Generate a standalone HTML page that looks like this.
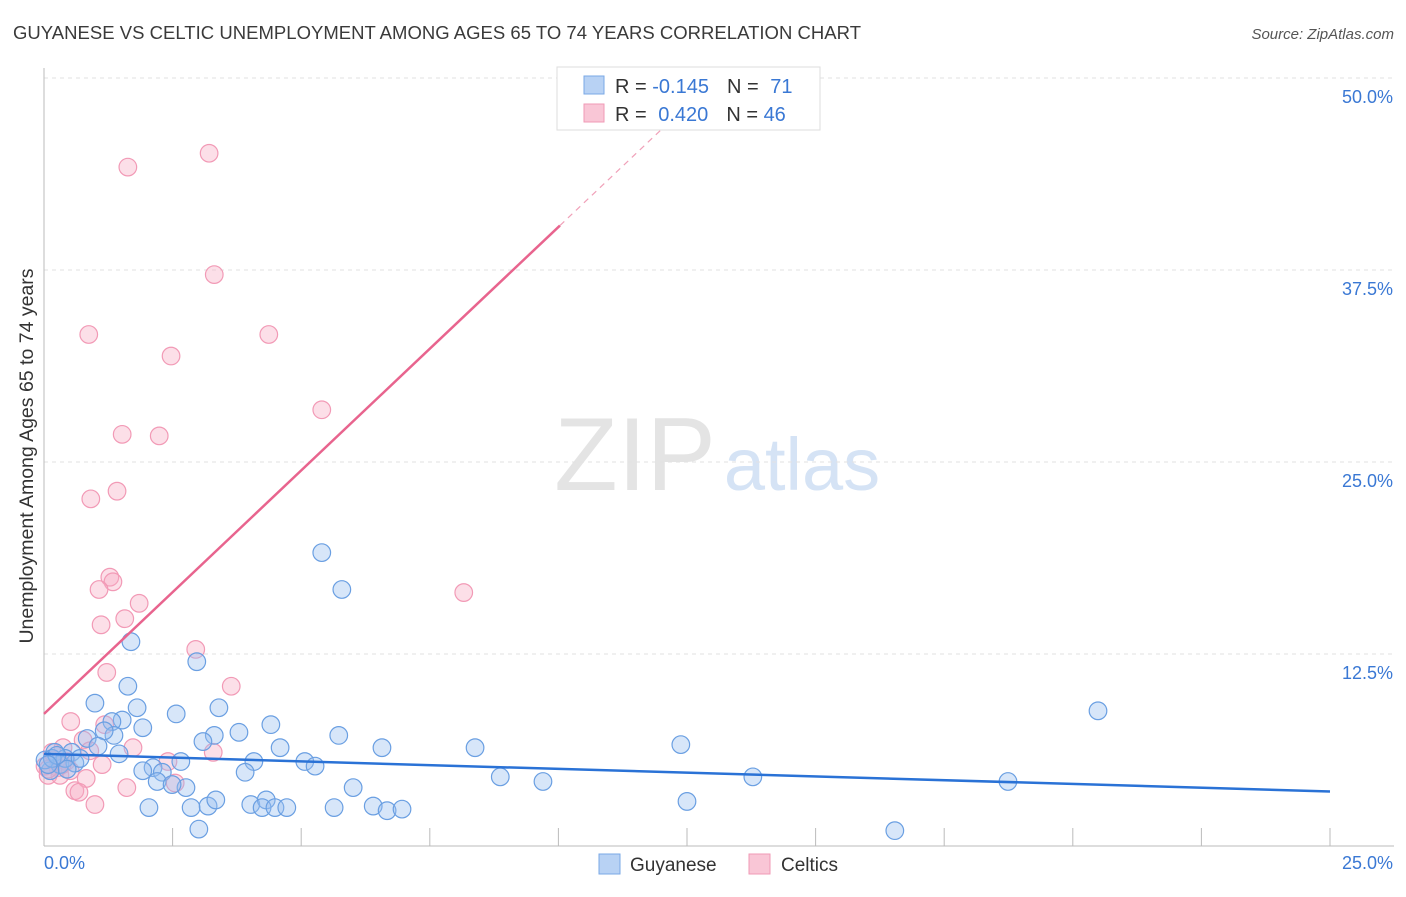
<!DOCTYPE html>
<html><head><meta charset="utf-8"><style>
body{margin:0;background:#fff;font-family:"Liberation Sans",sans-serif}
svg text{font-family:"Liberation Sans",sans-serif}
</style></head><body>
<svg id="chart" width="1406" height="892">
<text x="13" y="39" font-size="18.5" fill="#3a3a3a" textLength="848">GUYANESE VS CELTIC UNEMPLOYMENT AMONG AGES 65 TO 74 YEARS CORRELATION CHART</text>
<text x="1394" y="39" font-size="15" fill="#555" font-style="italic" text-anchor="end">Source: ZipAtlas.com</text>
<text transform="translate(33,456) rotate(-90)" font-size="19.5" fill="#333" text-anchor="middle">Unemployment Among Ages 65 to 74 years</text>
<g><text x="635" y="490" font-size="104" fill="#e4e4e4" font-family="Liberation Serif" text-anchor="middle">ZIP</text><text x="802" y="490" font-size="74" fill="#d5e3f5" text-anchor="middle">atlas</text></g>
<g id="grid"></g><g id="axes"></g><g id="pts"></g><g id="lines"></g>
<g>
<rect x="557" y="67" width="263" height="63" fill="#fff" stroke="#ddd"/>
<rect x="584" y="76" width="20" height="18" fill="#b8d2f4" stroke="#7aa8e6"/>
<rect x="584" y="104" width="20" height="18" fill="#f9c6d6" stroke="#f09ab6"/>
<text x="615" y="93" font-size="20" fill="#333">R = <tspan fill="#3a78d4">-0.145</tspan><tspan dx="18">N = </tspan><tspan fill="#3a78d4" dx="6">71</tspan></text>
<text x="615" y="121" font-size="20" fill="#333">R = <tspan fill="#3a78d4" dx="6"> 0.420</tspan><tspan dx="18">N = </tspan><tspan fill="#3a78d4">46</tspan></text>
</g>
<g>
<rect x="599" y="854" width="21" height="20" fill="#b8d2f4" stroke="#7aa8e6"/>
<text x="630" y="871" font-size="19" fill="#333">Guyanese</text>
<rect x="749" y="854" width="21" height="20" fill="#f9c6d6" stroke="#f09ab6"/>
<text x="781" y="871" font-size="19" fill="#333">Celtics</text>
</g>
</svg>
<script>
const yTicks=[12.5,25,37.5,50];
const yTickLabels=["12.5%","25.0%","37.5%","50.0%"];
const xEnds=["0.0%","25.0%"];
const blueX=[5.40,5.79,1.69,2.97,1.63,0.99,1.81,2.57,3.40,1.52,1.32,1.92,4.41,3.79,5.73,1.36,1.17,0.84,3.31,3.09,4.59,6.57,8.38,12.38,1.05,1.46,5.07,5.27,4.08,2.66,2.12,2.30,1.92,3.91,8.87,13.78,20.49,18.74,9.70,6.01,2.76,2.20,2.49,2.04,2.86,3.19,3.34,4.02,4.32,4.24,4.49,4.72,5.64,6.40,6.67,6.96,12.50,3.01,16.54,0.54,0.21,0.31,0.60,0.12,0.02,0.41,0.70,0.16,0.45,0.25,0.08];
const blueY=[19.1,16.7,13.3,12.0,10.4,9.3,9.0,8.6,9.0,8.2,8.1,7.7,7.9,7.4,7.2,7.2,7.5,7.0,7.2,6.8,6.4,6.4,6.4,6.6,6.5,6.0,5.5,5.2,5.5,5.5,5.1,4.8,4.9,4.8,4.5,4.5,8.8,4.2,4.2,3.8,3.8,4.2,4.0,2.5,2.5,2.6,3.0,2.7,3.0,2.5,2.5,2.5,2.5,2.6,2.3,2.4,2.9,1.1,1.0,6.1,6.1,5.3,5.4,4.9,5.6,5.7,5.7,5.7,5.0,5.9,5.3];
const pinkX=[1.63,3.21,3.31,0.87,4.37,2.47,5.40,1.52,2.24,0.91,1.42,8.16,1.28,1.34,1.07,1.85,1.57,1.11,2.95,1.22,3.64,0.52,1.18,1.73,3.29,2.41,0.37,0.76,1.13,0.82,0.60,0.68,1.61,0.99,2.55,0.18,0.27,0.08,0.43,0.02,0.31,0.51,0.16,0.89,0.08,0.35];
const pinkY=[44.2,45.1,37.2,33.3,33.3,31.9,28.4,26.8,26.7,22.6,23.1,16.5,17.5,17.2,16.7,15.8,14.8,14.4,12.8,11.3,10.4,8.1,7.9,6.4,6.1,5.5,6.4,6.9,5.3,4.4,3.6,3.5,3.8,2.7,4.1,5.6,5.1,4.6,5.5,5.2,4.6,4.9,6.1,6.2,5.0,5.3];
const blueFit=[6.0,3.55];
const pinkFit=[8.6,3.17];
const NS="http://www.w3.org/2000/svg";
const X0=44,X1=1330,Y0=846,Y50=78;
const sx=v=>X0+v/25*(X1-X0);
const sy=v=>Y0-v/50*(Y0-Y50);
function mk(tag,attrs,parent){const e=document.createElementNS(NS,tag);for(const k in attrs)e.setAttribute(k,attrs[k]);document.getElementById(parent).appendChild(e);return e;}
yTicks.forEach((t,i)=>{
 const l=mk('line',{x1:X0,x2:1394,y1:sy(t),y2:sy(t),stroke:'#e2e2e2','stroke-dasharray':'4,4'},'grid');
 
 
 const tx=mk('text',{x:1393,y:sy(t)+25,'font-size':18,fill:'#3a78d4','text-anchor':'end'},'grid');
 tx.textContent=yTickLabels[i];
 
 
});
const ax=mk('line',{x1:X0,x2:X0,y1:68,y2:Y0,stroke:'#bbb'},'axes');


const bx=mk('line',{x1:X0,x2:1394,y1:Y0,y2:Y0,stroke:'#bbb'},'axes');


for(let i=1;i<=10;i++){const t=mk('line',{x1:sx(i*2.5),x2:sx(i*2.5),y1:Y0,y2:Y0-18,stroke:'#bbb'},'axes');
 
 }
const xl0=mk('text',{x:44,y:869,'font-size':18,fill:'#3a78d4'},'axes');xl0.textContent=xEnds[0];


const xl1=mk('text',{x:1393,y:869,'font-size':18,fill:'#3a78d4','text-anchor':'end'},'axes');xl1.textContent=xEnds[1];


pinkX.forEach((x,i)=>{const c=mk('circle',{cx:sx(x),cy:sy(pinkY[i]),r:8.8,fill:'rgba(247,170,195,0.38)',stroke:'#f29ab6','stroke-width':1.2},'pts');
 
 });
blueX.forEach((x,i)=>{const c=mk('circle',{cx:sx(x),cy:sy(blueY[i]),r:8.8,fill:'rgba(150,190,240,0.38)',stroke:'#6a9fe2','stroke-width':1.2},'pts');
 
 });
const bl=mk('line',{x1:sx(0),y1:sy(blueFit[0]),x2:sx(25),y2:sy(blueFit[1]),stroke:'#2a72d6','stroke-width':2.5},'lines');


const pEnd=10.03;
const pl=mk('line',{x1:sx(0),y1:sy(pinkFit[0]),x2:sx(pEnd),y2:sy(pinkFit[0]+pinkFit[1]*pEnd),stroke:'#e8648e','stroke-width':2.5},'lines');


const pEnd2=(48.6-pinkFit[0])/pinkFit[1];
const pd=mk('line',{x1:sx(pEnd),y1:sy(pinkFit[0]+pinkFit[1]*pEnd),x2:sx(pEnd2),y2:sy(pinkFit[0]+pinkFit[1]*pEnd2),stroke:'#f0a0b8','stroke-width':1.2,'stroke-dasharray':'6,5'},'lines');


</script>
</body></html>
